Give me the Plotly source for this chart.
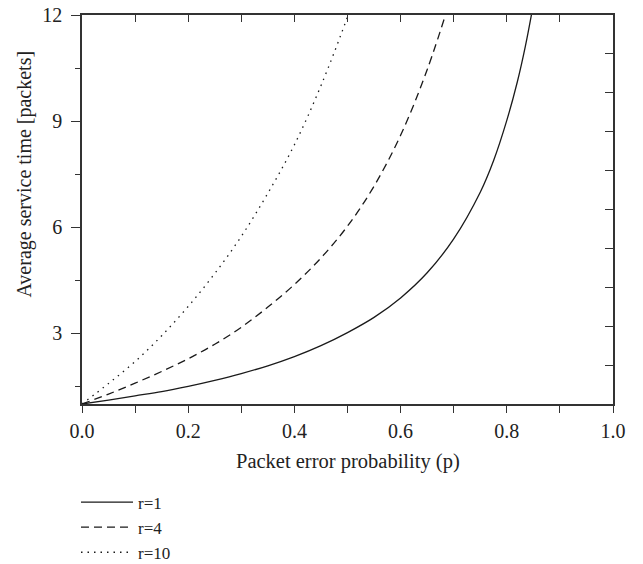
import plotly.graph_objects as go

# Packet error probability grid and average service time for each r
p_r1 = [0.0, 0.05, 0.10, 0.15, 0.20, 0.25, 0.30, 0.35, 0.40, 0.45, 0.50, 0.55,
        0.60, 0.65, 0.70, 0.75, 0.775, 0.80, 0.82, 0.835, 0.85]
t_r1 = [1.0, 1.11, 1.23, 1.35, 1.50, 1.67, 1.86, 2.08, 2.34, 2.65, 3.02, 3.45,
        4.00, 4.71, 5.67, 6.99, 7.88, 9.02, 10.12, 11.12, 12.3]

p_r4 = [0.0, 0.05, 0.10, 0.15, 0.20, 0.25, 0.30, 0.35, 0.40, 0.45, 0.50, 0.55,
        0.60, 0.65, 0.70]
t_r4 = [1.0, 1.28, 1.59, 1.92, 2.28, 2.69, 3.17, 3.74, 4.38, 5.13, 6.03, 7.16,
        8.60, 10.45, 12.75]

p_r10 = [0.0, 0.05, 0.10, 0.15, 0.20, 0.25, 0.30, 0.35, 0.40, 0.45, 0.50, 0.52]
t_r10 = [1.0, 1.58, 2.20, 2.93, 3.76, 4.69, 5.74, 6.96, 8.33, 10.00, 11.95, 12.85]

series = [
    ("r=1", p_r1, t_r1, "solid"),
    ("r=4", p_r4, t_r4, "8px,5px"),
    ("r=10", p_r10, t_r10, "1.5px,5px"),
]

INK = "#1a1a1a"
AXIS = "#333333"
FONT = "Liberation Serif, Times New Roman, serif"

fig = go.Figure()
for name, px, ty, dash in series:
    fig.add_trace(go.Scatter(
        x=px, y=ty, mode="lines", name=name,
        line=dict(color=INK, width=1.3, dash=dash, shape="spline"),
    ))

# empty trace so the mirrored top/right frame axes are rendered
fig.add_trace(go.Scatter(x=[None], y=[None], xaxis="x2", yaxis="y2",
                         mode="lines", showlegend=False, hoverinfo="skip"))

fig.update_layout(
    width=643, height=564,
    margin=dict(l=82, r=30, t=15, b=160, autoexpand=False),
    paper_bgcolor="white", plot_bgcolor="white",
    font=dict(family=FONT, size=20, color="#222222"),
    showlegend=True,
    legend=dict(
        x=-0.0113, xanchor="left", y=-0.207, yanchor="top",
        orientation="v", itemwidth=52,
        font=dict(size=17), bgcolor="rgba(0,0,0,0)",
    ),
    xaxis=dict(
        range=[0, 1], dtick=0.2, tickformat=".1f",
        showgrid=False, zeroline=False,
        showline=True, linecolor=AXIS, linewidth=1.5,
        ticks="outside", ticklen=7, tickwidth=1.2, tickcolor=AXIS,
        ticklabelstandoff=1,
        minor=dict(dtick=0.1, ticks="outside", ticklen=7, tickwidth=1.2, tickcolor=AXIS),
    ),
    yaxis=dict(
        range=[1, 12], tickvals=[3, 6, 9, 12],
        showgrid=False, zeroline=False,
        showline=True, linecolor=AXIS, linewidth=1.5,
        ticks="outside", ticklen=9, tickwidth=1.2, tickcolor=AXIS,
        ticklabelstandoff=5,
        minor=dict(tickvals=[1.5, 4.5, 7.5, 10.5], ticks="outside", ticklen=5,
                   tickwidth=1.2, tickcolor=AXIS),
    ),
    xaxis2=dict(
        overlaying="x", side="top", anchor="y", range=[0, 1], dtick=0.1,
        showticklabels=False, showgrid=False, zeroline=False,
        showline=True, linecolor=AXIS, linewidth=1.5,
        ticks="inside", ticklen=7, tickwidth=1.2, tickcolor=AXIS,
    ),
    yaxis2=dict(
        overlaying="y", side="right", anchor="x", range=[0, 10], dtick=1,
        showticklabels=False, showgrid=False, zeroline=False,
        showline=True, linecolor=AXIS, linewidth=1.5,
        ticks="inside", ticklen=8, tickwidth=1.2, tickcolor=AXIS,
    ),
    annotations=[
        dict(text="Packet error probability (p)", xref="paper", yref="paper",
             x=0.5, y=-0.149, xanchor="center", yanchor="middle",
             showarrow=False, font=dict(size=20.5)),
        dict(text="Average service time [packets]", xref="paper", yref="paper",
             x=-0.109, y=0.59, xanchor="center", yanchor="middle",
             textangle=-90, showarrow=False, font=dict(size=20)),
    ],
)

fig.write_html("out.html")
